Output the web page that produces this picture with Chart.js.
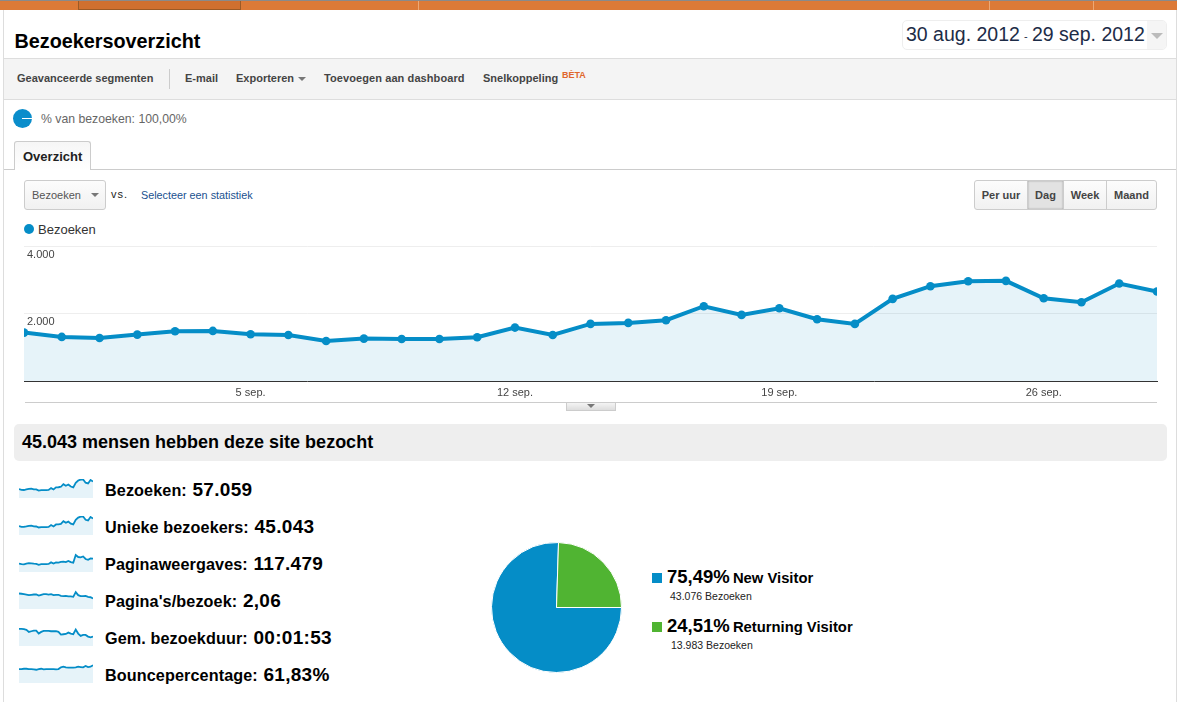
<!DOCTYPE html>
<html lang="nl">
<head>
<meta charset="utf-8">
<title>Bezoekersoverzicht</title>
<script src="https://cdn.jsdelivr.net/npm/chart.js@4/dist/chart.umd.min.js"></script>
<style>
html,body{margin:0;padding:0;background:#fff;width:1179px;height:702px;overflow:hidden;font-family:"Liberation Sans",Arial,sans-serif}
.a{position:absolute;white-space:nowrap}
.tb{top:71px;font:bold 11px/14px "Liberation Sans";color:#444}
.tri{position:absolute;width:0;height:0;border-left:4px solid transparent;border-right:4px solid transparent;border-top:4px solid #777}
.btn{position:absolute;top:0;height:28px;line-height:28px;text-align:center;font:bold 11px/28px "Liberation Sans";color:#444;border-right:1px solid #ccc;box-sizing:border-box}
.m{position:absolute;left:105px;height:24px;line-height:24px;font-weight:bold;font-size:16.2px;letter-spacing:.1px;color:#000;white-space:nowrap}
.m b{font-size:19px;letter-spacing:.3px;margin-left:1px}
canvas{position:absolute;display:block}
</style>
</head>
<body>
<!-- top navigation strip -->
<div class="a" style="left:0;top:0;width:1177px;height:10px;background:#dc7a37;border-top:1px solid #8a8a8a;box-sizing:border-box"></div>
<div class="a" style="left:78px;top:1px;width:163px;height:9px;background:#d0702f;border:1px solid #9c5a25;border-top:0;box-sizing:border-box"></div>
<div class="a" style="left:418px;top:1px;width:1px;height:9px;background:#eda874"></div>
<div class="a" style="left:989px;top:1px;width:1px;height:9px;background:#eda874"></div>
<div class="a" style="left:1093px;top:1px;width:1px;height:9px;background:#eda874"></div>
<div class="a" style="left:3px;top:10px;width:1px;height:692px;background:#ddd"></div>
<div class="a" style="left:1176px;top:10px;width:1px;height:692px;background:#ddd"></div>

<div class="a" style="left:14.5px;top:29px;font:bold 19.8px/24px 'Liberation Sans';color:#000">Bezoekersoverzicht</div>

<!-- date range -->
<div class="a" style="left:902px;top:20px;width:265px;height:30px;border:1px solid #eee;border-radius:5px;box-sizing:border-box;overflow:hidden">
  <div class="a" style="right:0;top:0;width:19px;height:28px;background:#f5f5f5"></div>
  <div class="tri" style="right:3px;top:12px;border-left-width:6px;border-right-width:6px;border-top:6px solid #bbb"></div>
</div>
<div class="a" style="left:906px;top:22px;font:19.5px/25px 'Liberation Sans';color:#1d2c47">30 aug. 2012</div>
<div class="a" style="left:1024px;top:26px;font:11px/20px 'Liberation Sans';color:#1d2c47">-</div>
<div class="a" style="left:1032px;top:22px;font:19.5px/25px 'Liberation Sans';color:#1d2c47">29 sep. 2012</div>

<!-- toolbar -->
<div class="a" style="left:4px;top:58px;width:1172px;height:42px;background:#f4f4f4;border-top:1px solid #ddd;border-bottom:1px solid #ddd;box-sizing:border-box"></div>
<div class="a tb" style="left:17px">Geavanceerde segmenten</div>
<div class="a" style="left:169px;top:69px;width:1px;height:20px;background:#ccc"></div>
<div class="a tb" style="left:185px">E-mail</div>
<div class="a tb" style="left:236px">Exporteren</div>
<div class="tri" style="left:298px;top:77px"></div>
<div class="a tb" style="left:324px;letter-spacing:.09px">Toevoegen aan dashboard</div>
<div class="a tb" style="left:483px">Snelkoppeling</div>
<div class="a" style="left:562px;top:70px;font:bold 9px/10px 'Liberation Sans';color:#e0662c">BÈTA</div>

<!-- segment -->
<div class="a" style="left:13px;top:109px;width:19px;height:19px;border-radius:50%;background:#0a8dcb"></div>
<div class="a" style="left:22px;top:118px;width:10px;height:1px;background:#fff"></div>
<div class="a" style="left:41px;top:112px;font:12.25px/14px 'Liberation Sans';color:#666">% van bezoeken: 100,00%</div>

<!-- tab -->
<div class="a" style="left:4px;top:169px;width:1172px;height:1px;background:#ccc"></div>
<div class="a" style="left:14px;top:141px;width:77px;height:29px;background:linear-gradient(#f6f6f6,#fff);border:1px solid #ccc;border-bottom:0;border-radius:3px 3px 0 0;box-sizing:border-box;font:bold 13px/29px 'Liberation Sans';color:#222;text-indent:8px">Overzicht</div>

<!-- metric selector -->
<div class="a" style="left:24px;top:180px;width:82px;height:30px;border:1px solid #ccc;border-radius:3px;background:linear-gradient(#fcfcfc,#f1f1f1);box-sizing:border-box"></div>
<div class="a" style="left:32px;top:188px;font:11px/14px 'Liberation Sans';color:#555">Bezoeken</div>
<div class="tri" style="left:91px;top:193px"></div>
<div class="a" style="left:111px;top:187px;font:11px/14px 'Liberation Sans';color:#222;letter-spacing:1px">vs.</div>
<div class="a" style="left:141px;top:188px;font:10.8px/14px 'Liberation Sans';color:#20518f">Selecteer een statistiek</div>

<!-- granularity -->
<div class="a" style="left:974px;top:180px;width:183px;height:30px;border:1px solid #ccc;border-radius:3px;background:linear-gradient(#fcfcfc,#f1f1f1);box-sizing:border-box;overflow:hidden">
  <div class="btn" style="left:0;width:53px">Per uur</div>
  <div class="btn" style="left:53px;width:36px;background:#e2e2e2;box-shadow:inset 0 0 2px #999">Dag</div>
  <div class="btn" style="left:89px;width:43px">Week</div>
  <div class="btn" style="left:132px;width:49px;border:0">Maand</div>
</div>

<!-- legend -->
<div class="a" style="left:24px;top:224px;width:10px;height:10px;border-radius:50%;background:#058dc7"></div>
<div class="a" style="left:38px;top:223px;font:13px/14px 'Liberation Sans';color:#333">Bezoeken</div>

<canvas id="main" width="1179" height="169" style="left:0;top:236px"></canvas>
<div class="a" style="left:25px;top:402px;width:1132px;height:1px;background:#ccc"></div>
<div class="a" style="left:566px;top:403px;width:50px;height:8px;background:linear-gradient(#f4f4f4,#ddd);border:1px solid #ccc;border-top:0;box-sizing:border-box"></div>
<div class="tri" style="left:587px;top:404px"></div>

<!-- section head -->
<div class="a" style="left:14px;top:424px;width:1153px;height:37px;background:#eee;border-radius:5px"></div>
<div class="a" style="left:22px;top:432px;font:bold 18px/20px 'Liberation Sans';color:#000">45.043 mensen hebben deze site bezocht</div>

<!-- sparklines and metrics -->
<canvas id="s0" width="74" height="21" style="left:19px;top:477px"></canvas>
<canvas id="s1" width="74" height="21" style="left:19px;top:514px"></canvas>
<canvas id="s2" width="74" height="21" style="left:19px;top:551px"></canvas>
<canvas id="s3" width="74" height="21" style="left:19px;top:588px"></canvas>
<canvas id="s4" width="74" height="21" style="left:19px;top:625px"></canvas>
<canvas id="s5" width="74" height="21" style="left:19px;top:662px"></canvas>
<div id="metrics"></div>

<!-- pie and its legend -->
<canvas id="pie" width="131" height="131" style="left:491px;top:542px"></canvas>
<div id="pieLegend"></div>

<script>
const dates = ["30 aug.","31 aug.","1 sep.","2 sep.","3 sep.","4 sep.","5 sep.","6 sep.","7 sep.","8 sep.","9 sep.","10 sep.","11 sep.","12 sep.","13 sep.","14 sep.","15 sep.","16 sep.","17 sep.","18 sep.","19 sep.","20 sep.","21 sep.","22 sep.","23 sep.","24 sep.","25 sep.","26 sep.","27 sep.","28 sep.","29 sep."];
const visits = [1445,1317,1287,1386,1485,1495,1396,1376,1198,1267,1257,1257,1307,1594,1376,1703,1733,1812,2228,1970,2168,1841,1703,2445,2822,2970,2980,2465,2346,2900,2663];
const uniques = [1150,1050,1030,1100,1180,1190,1110,1090,960,1010,1000,1000,1040,1270,1090,1350,1370,1430,1760,1560,1710,1460,1350,1930,2230,2350,2360,1950,1860,2300,2110];
const pageviews = [3000,2750,2700,2950,3100,3050,2950,2900,2550,2750,2750,2800,2850,3400,3000,3400,3350,3600,3700,3500,3900,3500,3300,6000,5300,5200,5500,4600,4300,4800,4700];
const pagesPerVisit = [2.20,2.18,2.15,2.12,2.07,2.10,2.12,2.12,2.04,2.10,2.15,2.15,2.12,2.15,2.07,2.10,2.10,2.02,1.99,2.02,1.97,1.97,1.94,2.31,2.07,1.99,1.99,2.02,1.94,1.91,1.81];
const duration = [154,154,151,144,126,132,138,138,111,126,135,135,135,132,132,132,126,102,105,108,120,111,105,147,111,90,99,99,84,78,84];
const bounce = [58.6,58.6,60,60,58.6,58.6,57.2,55.8,58.6,60,57.2,58.6,58.6,58.6,58.6,57.2,58.6,65.8,68.6,65.8,64.4,64.4,64.4,65.8,68.6,67.2,65.8,71.5,67.2,68.6,74.4];

const xTickLabels = ["5 sep.","12 sep.","19 sep.","26 sep."];
const yTickValues = [2000,4000];
const yTickLabels = ["2.000","4.000"];

const metricNames = ["Bezoeken:","Unieke bezoekers:","Paginaweergaves:","Pagina's/bezoek:","Gem. bezoekduur:","Bouncepercentage:"];
const metricValues = ["57.059","45.043","117.479","2,06","00:01:53","61,83%"];

const pieNames = ["New Visitor","Returning Visitor"];
const pieVisits = [43076,13983];
const piePercents = ["75,49%","24,51%"];
const pieCounts = ["43.076 Bezoeken","13.983 Bezoeken"];

const blue = "#058dc7", green = "#50b432", fill = "rgba(5,141,199,0.1)";
const font = '"Liberation Sans", Arial, sans-serif';

new Chart(document.getElementById("main"), {
  type: "line",
  data: { labels: dates, datasets: [{
    data: visits, borderColor: blue, backgroundColor: fill, fill: "origin", tension: 0,
    borderWidth: 4, pointRadius: 4.3, pointBorderWidth: 0, pointBackgroundColor: blue, clip: 0
  }]},
  options: {
    responsive: false, animation: false, devicePixelRatio: 1,
    layout: { padding: { left: 24, right: 22, top: 10.5, bottom: 0 } },
    plugins: { legend: { display: false }, tooltip: { enabled: false } },
    scales: {
      x: {
        afterFit: s => { s.height = 23.7; },
        grid: { display: false, drawTicks: false },
        border: { color: "#333", width: 1 },
        ticks: { autoSkip: false, maxRotation: 0, padding: 5, color: "#444", font: { family: font, size: 11 },
          callback(v) { const l = this.getLabelForValue(v); return xTickLabels.includes(l) ? l : ""; } }
      },
      y: {
        min: 0, max: 4000,
        afterFit: s => { s.width = 0; },
        grid: { color: "#eee", drawTicks: false },
        border: { display: false },
        ticks: { stepSize: 2000, mirror: true, padding: 3, labelOffset: 8, color: "#444", font: { family: font, size: 11 },
          callback(v) { const i = yTickValues.indexOf(v); return i < 0 ? "" : yTickLabels[i]; } }
      }
    }
  }
});

const sparks = [
  [visits, 0, 3060], [uniques, 0, 2430], [pageviews, 0, 6720],
  [pagesPerVisit, 1, 2.47], [duration, 0, 170], [bounce, 0, 80]
];
sparks.forEach(([vals, lo, hi], i) => {
  new Chart(document.getElementById("s" + i), {
    type: "line",
    data: { labels: dates, datasets: [{ data: vals, borderColor: blue, backgroundColor: fill, fill: "origin",
      tension: 0, borderWidth: 1.8, pointRadius: 0 }] },
    options: {
      responsive: false, animation: false, devicePixelRatio: 1,
      layout: { padding: { top: 2, left: 0, right: 0, bottom: 0 } },
      plugins: { legend: { display: false }, tooltip: { enabled: false } },
      scales: { x: { display: false }, y: { display: false, min: lo, max: hi } }
    }
  });
});

document.getElementById("metrics").innerHTML = metricNames.map((n, i) =>
  `<div class="m" style="top:${478 + 37 * i}px">${n} <b>${metricValues[i]}</b></div>`).join("");

new Chart(document.getElementById("pie"), {
  type: "pie",
  data: { labels: pieNames, datasets: [{ data: pieVisits, backgroundColor: [blue, green], borderColor: "#fff", borderWidth: 1 }] },
  options: {
    responsive: false, animation: false, devicePixelRatio: 1, rotation: 90,
    plugins: { legend: { display: false }, tooltip: { enabled: false } }
  }
});

const legendColors = [blue, green];
document.getElementById("pieLegend").innerHTML = pieNames.map((n, i) => {
  const t = 49 * i;
  return `<div class="a" style="left:652px;top:${573 + t}px;width:10px;height:10px;background:${legendColors[i]}"></div>
  <div class="a" style="left:667px;top:${566 + t}px;font:bold 18.5px/22px 'Liberation Sans';color:#000">${piePercents[i]}
  <span style="font-size:14.8px;margin-left:-2px">${n}</span></div>
  <div class="a" style="left:${670 + i}px;top:${590 + t}px;font:10.5px/13px 'Liberation Sans';color:#222">${pieCounts[i]}</div>`;
}).join("");
</script>
</body>
</html>
